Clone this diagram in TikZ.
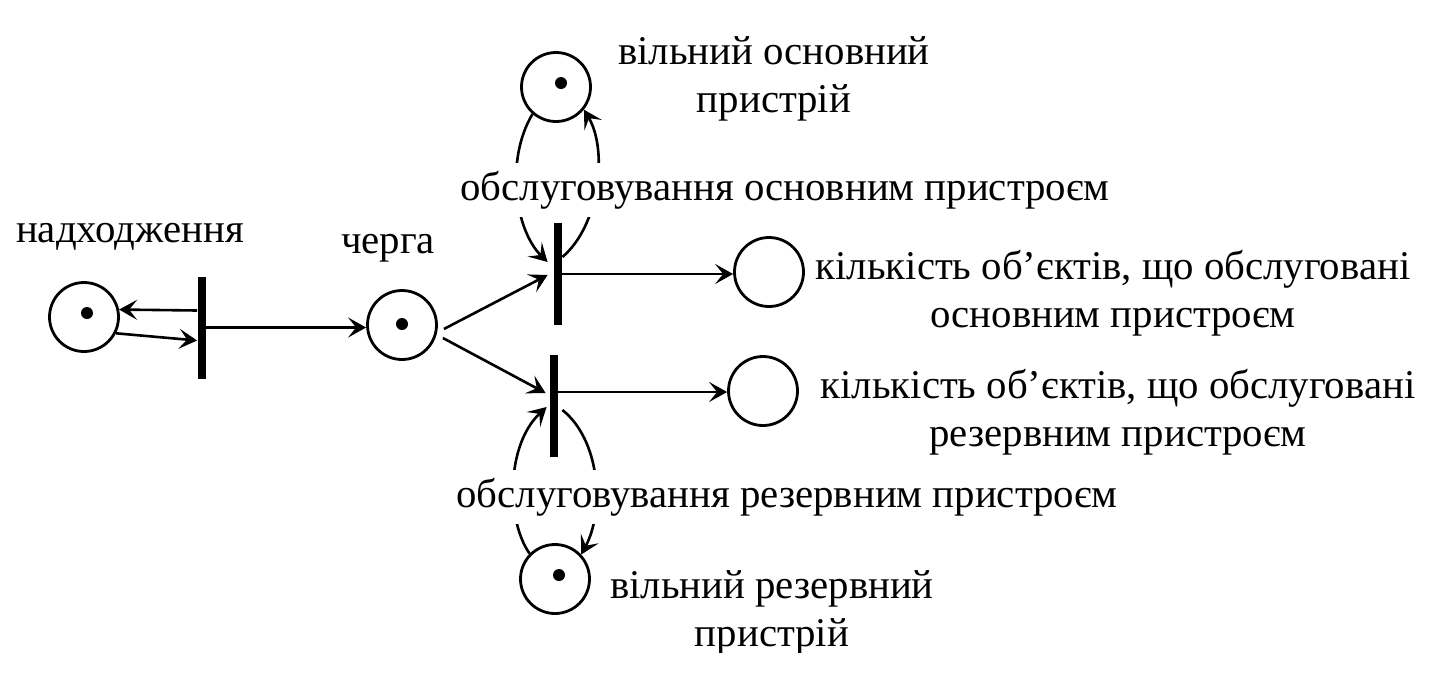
\documentclass[tikz,border=0pt]{standalone}
\usepackage{fontspec}
\setmainfont{Liberation Serif}
\usetikzlibrary{arrows.meta,calc}
\begin{document}
\begin{tikzpicture}[x=0.5pt,y=-0.5pt,
  place/.style={circle,draw,line width=1.4pt,minimum size=34.5pt,inner sep=0pt},
  bar/.style={fill=black,minimum width=4pt,minimum height=51pt,inner sep=0pt},
  tok/.style={circle,fill=black,minimum size=6pt,inner sep=0pt},
  arc/.style={line width=1.3pt,-{Stealth[length=9pt,width=10pt,inset=4pt]}},
  lbl/.style={font=\fontsize{20.4}{24}\selectfont,align=center,inner sep=1pt},
  cut/.style={lbl,fill=white,inner sep=4pt},
]
\useasboundingbox (0,0) rectangle (1446,676);
% places
\node[place] (p1) at (84,317) {};
\node[tok] (k1) at (87,313) {};
\node[place] (p2) at (402,325) {};
\node[tok] (k2) at (402,324) {};
\node[place] (p3) at (556,87) {};
\node[tok] (k3) at (561,83) {};
\node[place] (p4) at (769,272) {};
\node[place] (p5) at (763,391) {};
\node[place] (p6) at (555,579) {};
\node[tok] (k6) at (559,575) {};
% transitions
\node[bar] (t1) at (201.5,327.5) {};
\node[bar] (t2) at (558,274) {};
\node[bar] (t3) at (554,406) {};
% helper coordinates
\coordinate (t1a) at ($(t1.west)+(0,-17)$);
\coordinate (t1b) at ($(t1.west)+(0,13)$);
\coordinate (t3o) at ($(t3.east)+(0,-14)$);
% arcs
\draw[arc] (t1a) -- (p1.12);
\draw[arc] (p1.-27) -- (t1b);
\draw[arc] (t1.east) -- (t1.east -| p2.west);
\draw[arc] ($(p2.east)+(6,4)$) -- ($(t2.west)+(-6,1)$);
\draw[arc] ($(p2.east)+(5,13)$) -- ($(t3.west)+(-4,-13)$);
\draw[arc] (t2.east) -- (t2.east -| p4.west);
\draw[arc] (t3o) -- (t3o -| p5.west);
% loops
\draw[arc] (p3.229) .. controls (505,160) and (515,230) .. ($(t2.west)+(-6,-12)$);
\draw[arc] ($(t2.east)+(0,-17)$) .. controls (600,225) and (608,150) .. (p3.-39);
\draw[arc] (p6.135) .. controls (506,520) and (506,445) .. ($(t3.west)+(-3,1)$);
\draw[arc] ($(t3.east)+(4,4)$) .. controls (600,440) and (605,510) .. (p6.43);
% labels
\node[lbl] (l1) at (130,237) {надходження};
\node[lbl] (l2) at (388,248) {черга};
\node[lbl] (l3) at (774,79) {вільний основний\\пристрій};
\node[cut] (l4) at (785,190) {обслуговування основним пристроєм};
\node[lbl] (l5) at (1113,293) {кількість об’єктів, що обслуговані\\основним пристроєм};
\node[lbl] (l6) at (1118,412) {кількість об’єктів, що обслуговані\\резервним пристроєм};
\node[cut] (l7) at (787,497) {обслуговування резервним пристроєм};
\begin{scope}
  \clip (0,0) rectangle (1446,652);
  \node[lbl] (l8) at (772,613) {вільний резервний\\пристрій};
\end{scope}
\end{tikzpicture}
\end{document}
